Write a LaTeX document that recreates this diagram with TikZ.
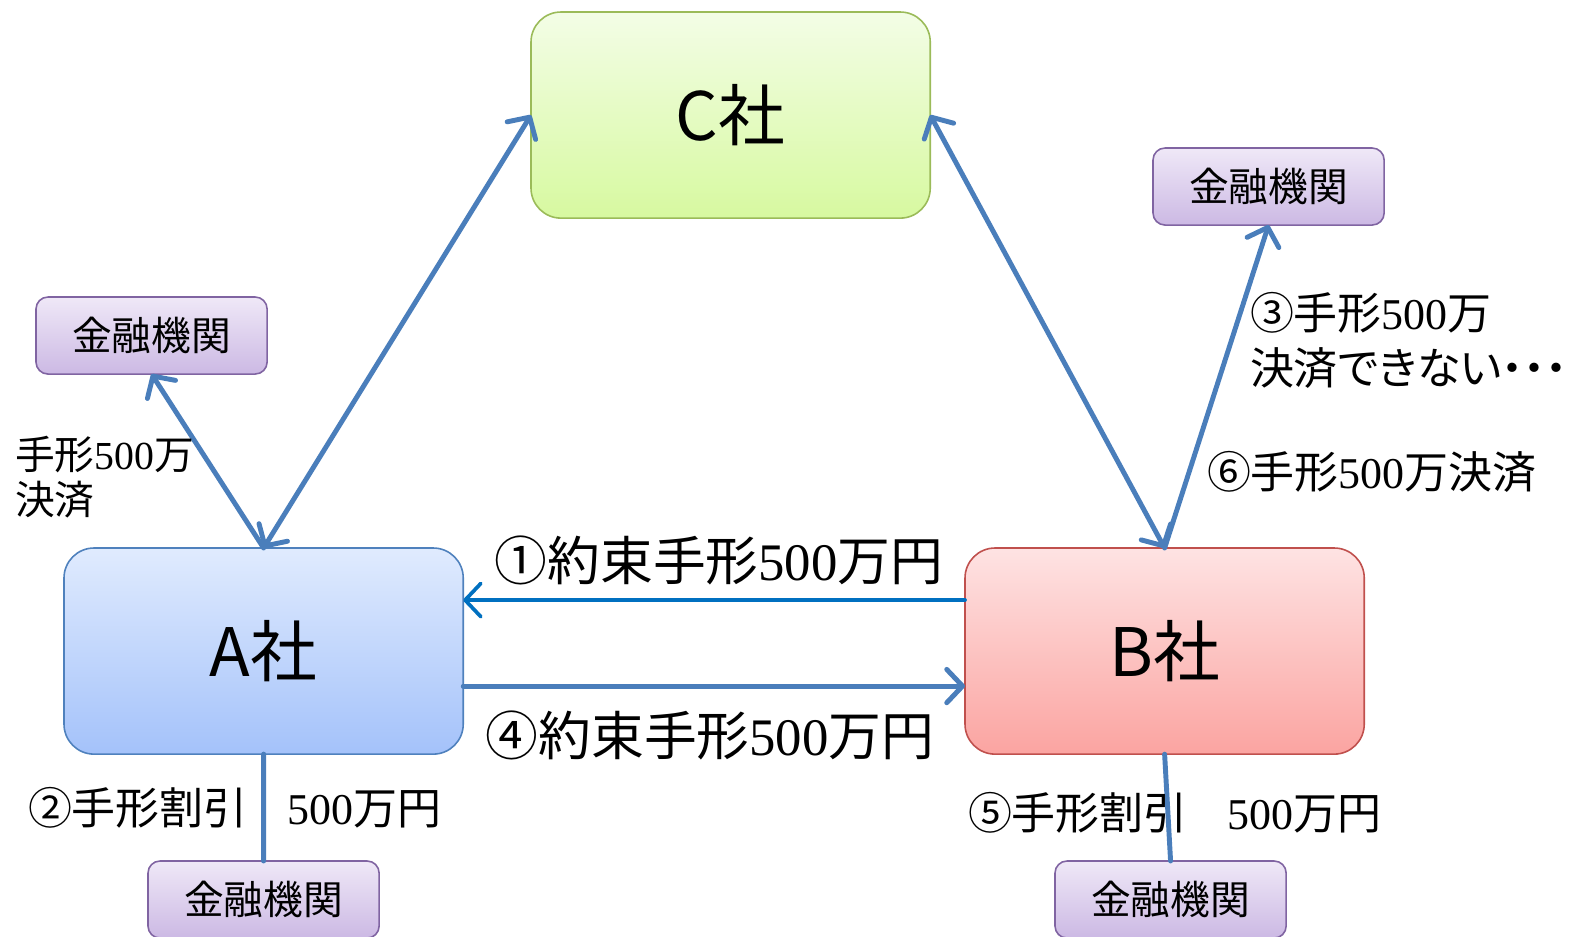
\documentclass[tikz,border=0pt]{standalone}
\usepackage{fontspec}
\setmainfont{Liberation Serif}
\newfontfamily\jp{Noto Sans CJK JP}
\newfontfamily\jpp[RawFeature={+palt}]{Noto Sans CJK JP}
\newcommand\J[1]{{\jp #1}}
\usetikzlibrary{arrows.meta,calc}
\definecolor{arr}{RGB}{74,126,187}
\definecolor{arrb}{RGB}{0,112,192}
\definecolor{cbord}{RGB}{155,187,89}
\definecolor{ctop}{RGB}{243,253,230}
\definecolor{cbot}{RGB}{215,249,160}
\definecolor{abord}{RGB}{79,129,189}
\definecolor{atop}{RGB}{224,235,254}
\definecolor{abot}{RGB}{164,194,250}
\definecolor{bbord}{RGB}{192,80,77}
\definecolor{btop}{RGB}{254,227,227}
\definecolor{bbot}{RGB}{251,164,161}
\definecolor{pbord}{RGB}{128,100,162}
\definecolor{ptop}{RGB}{239,232,247}
\definecolor{pbot}{RGB}{204,185,228}
\begin{document}
\begin{tikzpicture}[x=0.01cm,y=-0.01cm,
  company/.style={draw, line width=0.45pt, rounded corners=0.3cm, inner sep=0pt, outer sep=0pt,
     anchor=north west, minimum width=3.99cm, minimum height=2.06cm,
     font=\jp\fontsize{19}{22}\selectfont},
  bank/.style={draw=pbord, line width=0.45pt, rounded corners=0.12cm, inner sep=0pt, outer sep=0pt,
     anchor=north west, minimum width=2.31cm, minimum height=0.77cm,
     top color=ptop, bottom color=pbot, font=\jp\fontsize{11.3}{13}\selectfont},
  conn/.style={draw=arr, line width=1.4pt, line cap=round},
  tip/.style={-{Straight Barb[length=4.5pt,width=9.5pt,round]}},
  dtip/.style={{Straight Barb[length=4.5pt,width=9.5pt,round]}-{Straight Barb[length=4.5pt,width=9.5pt,round]}},
  lbl/.style={inner sep=0pt, outer sep=0pt, text=black},
  big/.style={lbl, font=\fontsize{15}{18}\selectfont},
  mid/.style={lbl, font=\fontsize{12.5}{15.6}\selectfont, align=left},
]
\clip (0,0) rectangle (1570,936);
\fill[white] (0,0) rectangle (1570,936);

% companies
\node[company, draw=cbord, top color=ctop, bottom color=cbot] (C) at (531,12) {C社};
\node[company, draw=abord, top color=atop, bottom color=abot] (A) at (64,548) {A社};
\node[company, draw=bbord, top color=btop, bottom color=bbot] (B) at (965,548) {B社};

% banks
\node[bank] (K1) at (36,297) {金融機関};
\node[bank] (K2) at (1153,148) {金融機関};
\node[bank] (K3) at (148,861) {金融機関};
\node[bank] (K4) at (1055,861) {金融機関};

% connectors
\draw[conn, dtip] (A.north) -- (C.west);
\draw[conn, dtip] (C.east) -- (B.north);
\draw[conn, tip] (A.north) -- (K1.south);
\draw[conn, tip] (B.north) -- (K2.south);
\draw[conn] (A.south) -- (K3.north);
\draw[conn] (B.south) -- (K4.north);

\coordinate (b1) at ($(B.west)+(0,-51)$);
\coordinate (a1) at ($(A.east)+(0,-51)$);
\coordinate (a4) at ($(A.east)+(0,35)$);
\coordinate (b4) at ($(B.west)+(0,35)$);
\draw[draw=arrb, line width=1.05pt, line cap=round, tip] (b1) -- (a1);
\draw[conn, tip] (a4) -- (b4);

% labels
\node[big, anchor=center] (L1) at (719,560) {\J{①約束手形}500\J{万円}};
\node[big, anchor=center] (L4) at (710,735) {\J{④約束手形}500\J{万円}};
\node[lbl, anchor=west, font=\fontsize{11.3}{12.8}\selectfont, align=left] (L0) at (15,477) {\J{手形}500\J{万}\\\J{決済}};
\node[mid, anchor=west] (L3) at (1250,340) {\J{③手形}500\J{万}\\{\jpp 決済できない・・・}};
\node[mid, anchor=west] (L6) at (1207,472) {\J{⑥手形}500\J{万決済}};
\node[mid, anchor=west] (L2) at (28,808) {\J{②手形割引}\hspace{0.9em}500\J{万円}};
\node[mid, anchor=west] (L5) at (968,813) {\J{⑤手形割引}\hspace{0.9em}500\J{万円}};
\end{tikzpicture}
\end{document}
